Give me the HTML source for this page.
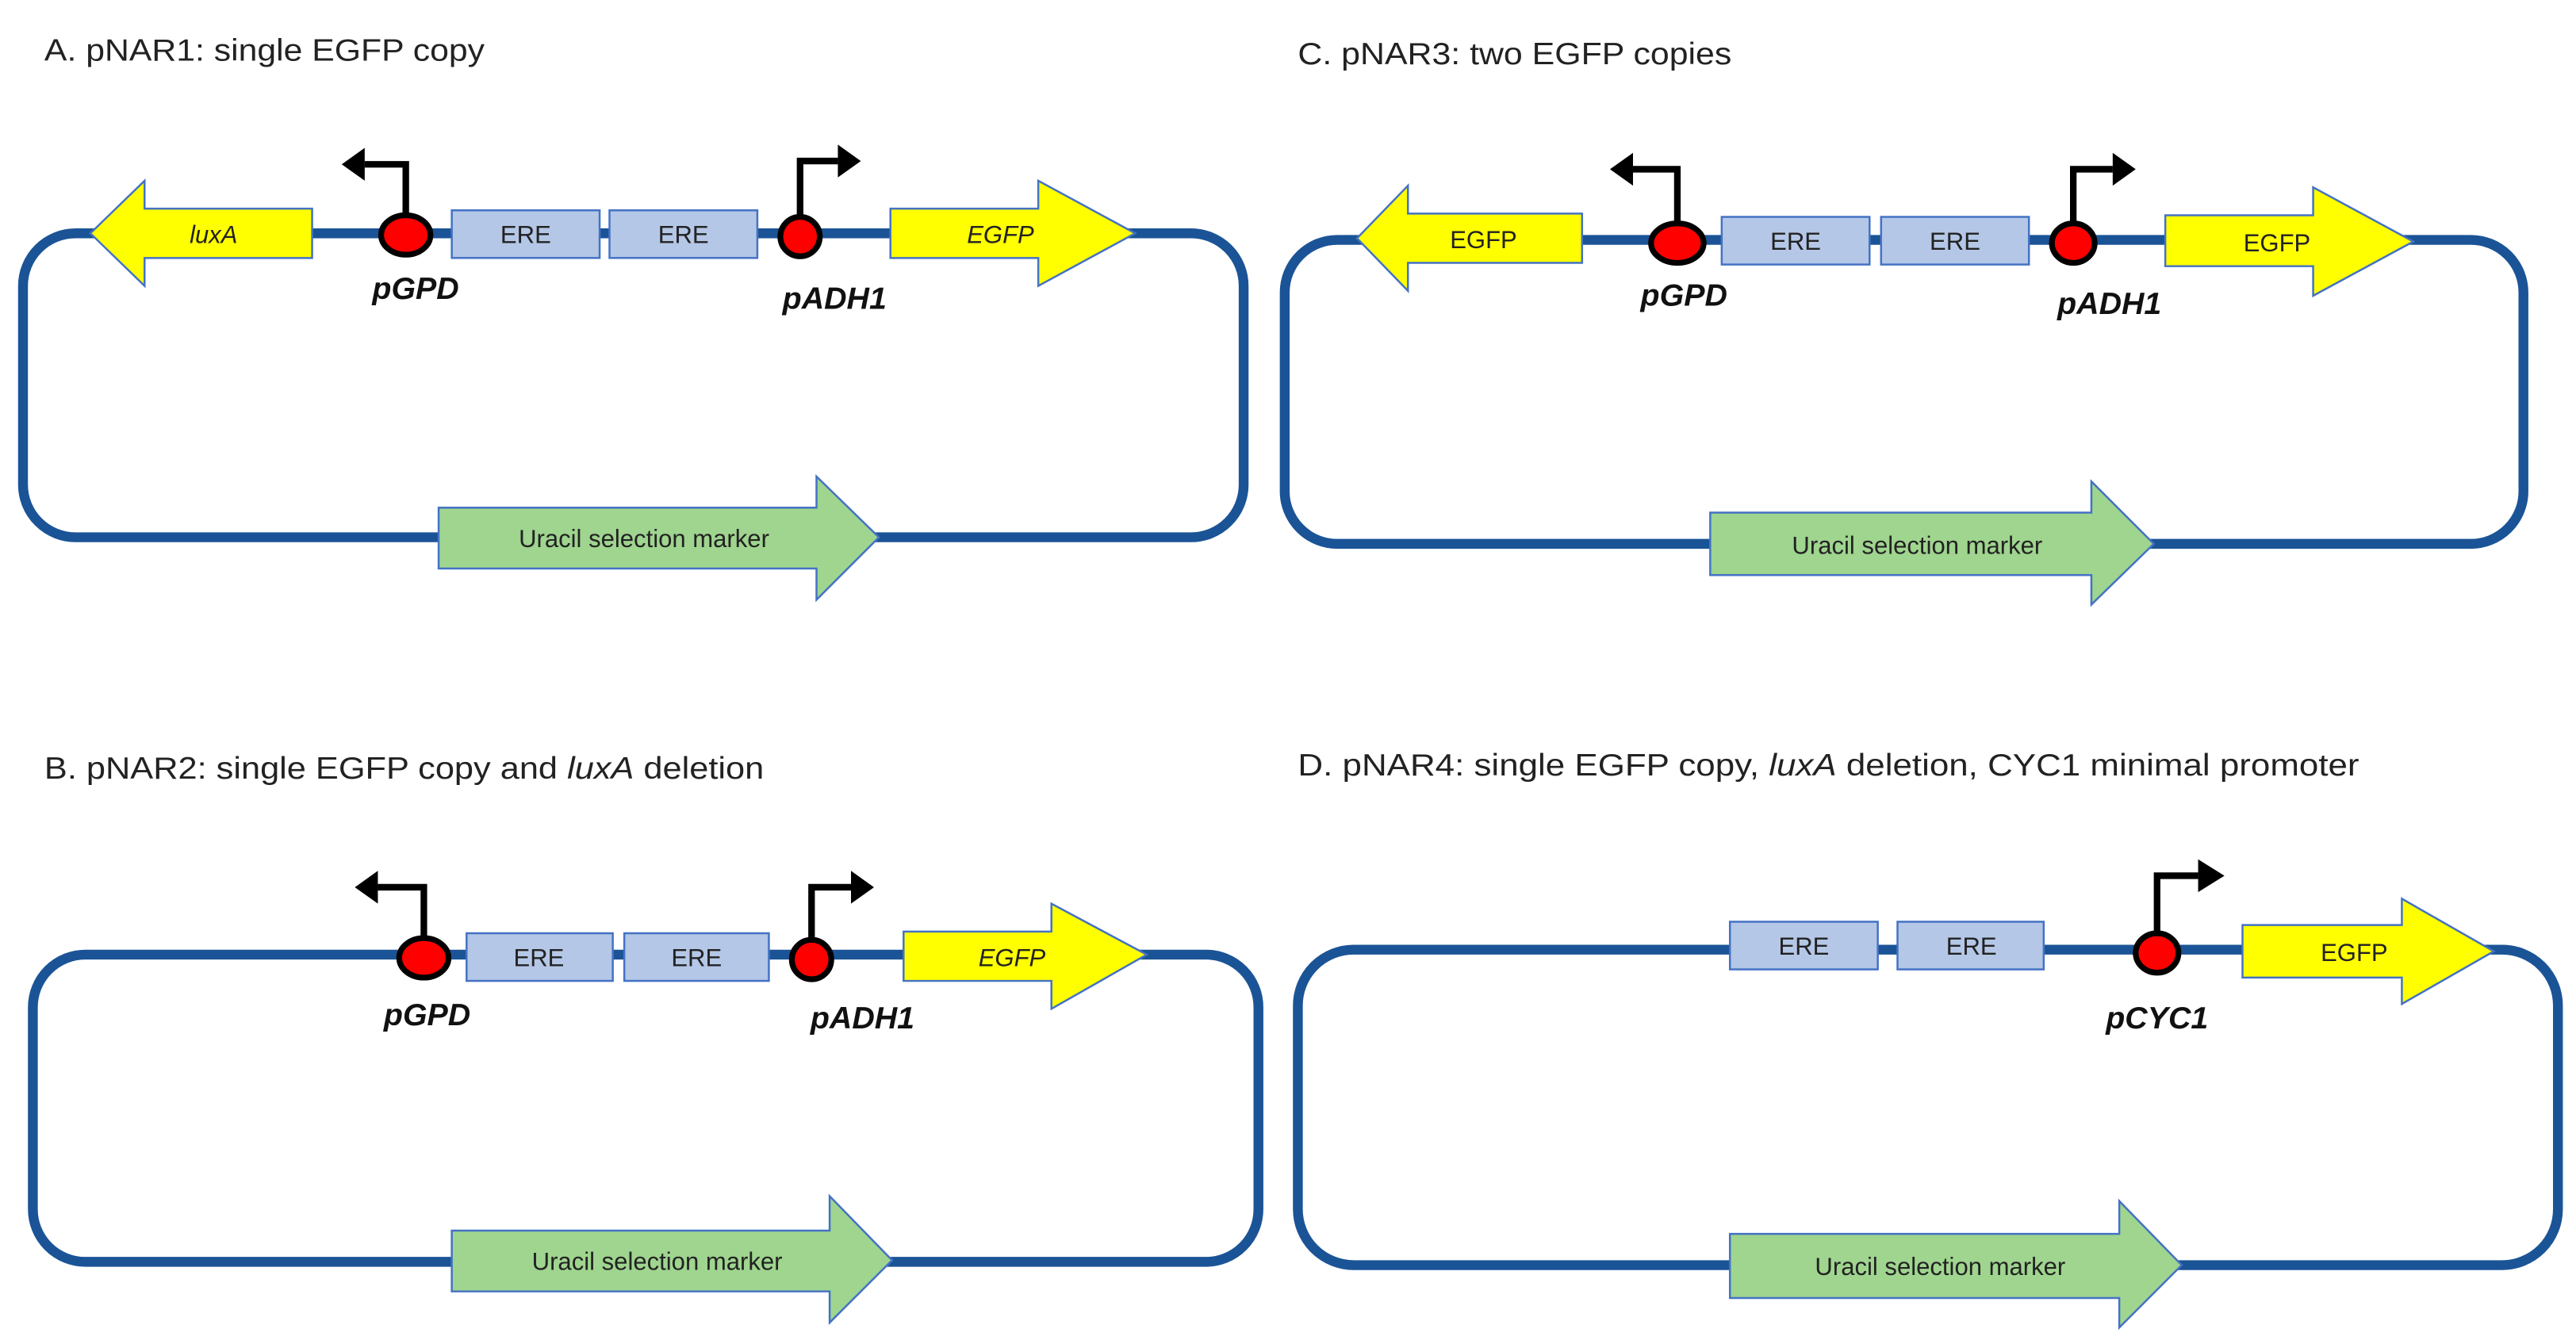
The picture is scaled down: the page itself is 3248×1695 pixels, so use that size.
<!DOCTYPE html>
<html><head><meta charset="utf-8"><style>
html,body{margin:0;padding:0;background:#fff;}
svg{display:block;}
text{font-family:"Liberation Sans",sans-serif;}
.t{font-size:19px;fill:#222;}
.lab{font-size:19px;font-weight:bold;font-style:italic;fill:#111;}
.g{font-size:15px;fill:#222;}
.loop{fill:none;stroke:#1b5496;stroke-width:6;}
.y{fill:#ffff00;stroke:#4472c4;stroke-width:1.2;}
.e{fill:#b4c7e7;stroke:#4472c4;stroke-width:1.2;}
.gr{fill:#9fd58f;stroke:#4472c4;stroke-width:1.2;}
.pc{fill:#ff0000;stroke:#000;stroke-width:3.5;}
.pl{fill:none;stroke:#000;stroke-width:4;}
</style></head><body>
<svg width="3248" height="1695" viewBox="0 0 1568 818" preserveAspectRatio="none" xmlns="http://www.w3.org/2000/svg">
<!-- Panel A -->
<text class="t" x="27" y="37" textLength="268" lengthAdjust="spacingAndGlyphs">A. pNAR1: single EGFP copy</text>
<rect class="loop" x="14" y="142" width="743" height="185" rx="32"/>
<polygon class="y" points="55,142 88,110 88,127 190,127 190,157 88,157 88,174"/>
<text class="g" x="130" y="148" text-anchor="middle" font-style="italic">luxA</text>
<rect class="e" x="275" y="128" width="90" height="29"/><text class="g" x="320" y="148" text-anchor="middle">ERE</text>
<rect class="e" x="371" y="128" width="90" height="29"/><text class="g" x="416" y="148" text-anchor="middle">ERE</text>
<polyline class="pl" points="247,132 247,100 222,100"/><polygon points="208,100 222,90 222,110"/>
<ellipse class="pc" cx="247" cy="143" rx="15" ry="12"/>
<polyline class="pl" points="487,132 487,98 510,98"/><polygon points="524,98 510,88 510,108"/>
<ellipse class="pc" cx="487" cy="144" rx="12" ry="12"/>
<text class="lab" x="253" y="182" text-anchor="middle">pGPD</text>
<text class="lab" x="508" y="188" text-anchor="middle">pADH1</text>
<polygon class="y" points="542,127 632,127 632,110 691,142 632,174 632,157 542,157"/>
<text class="g" x="609" y="148" text-anchor="middle" font-style="italic">EGFP</text>
<polygon class="gr" points="267,309 497,309 497,290 535,327 497,365 497,346 267,346"/>
<text class="g" x="392" y="333" text-anchor="middle" font-size="16">Uracil selection marker</text>

<!-- Panel B -->
<text class="t" x="27" y="474" textLength="438" lengthAdjust="spacingAndGlyphs">B. pNAR2: single EGFP copy and <tspan font-style="italic">luxA</tspan> deletion</text>
<rect class="loop" x="20" y="581" width="746" height="187" rx="32"/>
<rect class="e" x="284" y="568" width="89" height="29"/><text class="g" x="328" y="588" text-anchor="middle">ERE</text>
<rect class="e" x="380" y="568" width="88" height="29"/><text class="g" x="424" y="588" text-anchor="middle">ERE</text>
<polyline class="pl" points="258,572 258,540 230,540"/><polygon points="216,540 230,530 230,550"/>
<ellipse class="pc" cx="258" cy="583" rx="15" ry="12"/>
<polyline class="pl" points="494,573 494,540 518,540"/><polygon points="532,540 518,530 518,550"/>
<ellipse class="pc" cx="494" cy="584" rx="12" ry="12"/>
<text class="lab" x="260" y="624" text-anchor="middle">pGPD</text>
<text class="lab" x="525" y="626" text-anchor="middle">pADH1</text>
<polygon class="y" points="550,567 640,567 640,550 698,581 640,614 640,597 550,597"/>
<text class="g" x="616" y="588" text-anchor="middle" font-style="italic">EGFP</text>
<polygon class="gr" points="275,749 505,749 505,728 543,767 505,805 505,786 275,786"/>
<text class="g" x="400" y="773" text-anchor="middle" font-size="16">Uracil selection marker</text>

<!-- Panel C -->
<text class="t" x="790" y="39" textLength="264" lengthAdjust="spacingAndGlyphs">C. pNAR3: two EGFP copies</text>
<rect class="loop" x="782" y="146" width="754" height="185" rx="32"/>
<polygon class="y" points="826,145 857,113 857,130 963,130 963,160 857,160 857,177"/>
<text class="g" x="903" y="151" text-anchor="middle">EGFP</text>
<rect class="e" x="1048" y="132" width="90" height="29"/><text class="g" x="1093" y="152" text-anchor="middle">ERE</text>
<rect class="e" x="1145" y="132" width="90" height="29"/><text class="g" x="1190" y="152" text-anchor="middle">ERE</text>
<polyline class="pl" points="1021,137 1021,103 994,103"/><polygon points="980,103 994,93 994,113"/>
<ellipse class="pc" cx="1021" cy="148" rx="16" ry="12"/>
<polyline class="pl" points="1262,137 1262,103 1286,103"/><polygon points="1300,103 1286,93 1286,113"/>
<ellipse class="pc" cx="1262" cy="148" rx="13" ry="12"/>
<text class="lab" x="1025" y="186" text-anchor="middle">pGPD</text>
<text class="lab" x="1284" y="191" text-anchor="middle">pADH1</text>
<polygon class="y" points="1318,131 1408,131 1408,114 1469,147 1408,180 1408,162 1318,162"/>
<text class="g" x="1386" y="153" text-anchor="middle">EGFP</text>
<polygon class="gr" points="1041,312 1273,312 1273,293 1311,331 1273,368 1273,350 1041,350"/>
<text class="g" x="1167" y="337" text-anchor="middle" font-size="16">Uracil selection marker</text>

<!-- Panel D -->
<text class="t" x="790" y="472" textLength="646" lengthAdjust="spacingAndGlyphs">D. pNAR4: single EGFP copy, <tspan font-style="italic">luxA</tspan> deletion, CYC1 minimal promoter</text>
<rect class="loop" x="790" y="578" width="767" height="192" rx="34"/>
<rect class="e" x="1053" y="561" width="90" height="29"/><text class="g" x="1098" y="581" text-anchor="middle">ERE</text>
<rect class="e" x="1155" y="561" width="89" height="29"/><text class="g" x="1200" y="581" text-anchor="middle">ERE</text>
<polyline class="pl" points="1313,569 1313,533 1338,533"/><polygon points="1354,533 1338,523 1338,543"/>
<ellipse class="pc" cx="1313" cy="580" rx="13" ry="12"/>
<text class="lab" x="1313" y="626" text-anchor="middle">pCYC1</text>
<polygon class="y" points="1365,563 1462,563 1462,547 1518,579 1462,611 1462,595 1365,595"/>
<text class="g" x="1433" y="585" text-anchor="middle">EGFP</text>
<polygon class="gr" points="1053,751 1290,751 1290,731 1328,770 1290,808 1290,790 1053,790"/>
<text class="g" x="1181" y="776" text-anchor="middle" font-size="16">Uracil selection marker</text>
</svg>
</body></html>
